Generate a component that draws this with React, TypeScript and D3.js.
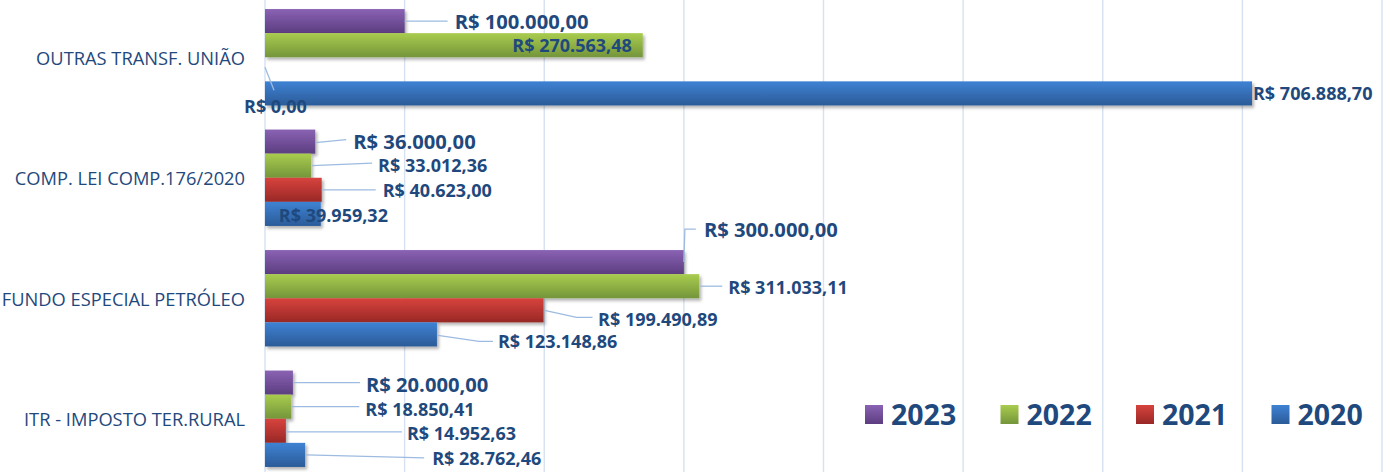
import React from "react";
import * as d3 from "d3";

const categories = [
  "OUTRAS TRANSF. UNIÃO",
  "COMP. LEI COMP.176/2020",
  "FUNDO ESPECIAL PETRÓLEO",
  "ITR - IMPOSTO TER.RURAL",
];
const seriesNames = ["2023", "2022", "2021", "2020"];
const values2023 = [100000.0, 36000.0, 300000.0, 20000.0];
const values2022 = [270563.48, 33012.36, 311033.11, 18850.41];
const values2021 = [0.0, 40623.0, 199490.89, 14952.63];
const values2020 = [706888.7, 39959.32, 123148.86, 28762.46];
const xTicks = [0, 100000, 200000, 300000, 400000, 500000, 600000, 700000, 800000];

const seriesValues = [values2023, values2022, values2021, values2020];

// styling / layout (not data)
const colors = [
  { top: "#8a63b4", bottom: "#5c3d80" },
  { top: "#a9cc4f", bottom: "#74953a" },
  { top: "#d8433d", bottom: "#982826" },
  { top: "#3f82d4", bottom: "#2b5b98" },
];
const textColor = "#1f497d";
const leaderColor = "#9dbbe0";
const gridColor = "#d6e2f1";

type Lbl = { dx: number; dy: number; anchor?: "start" | "end"; leader?: [number, number][] };
// label offsets relative to (bar end, bar centre), indexed [category][series]
const labelLayout: Lbl[][] = [
  [
    { dx: 50, dy: 0, leader: [[0, 0], [43, 0]] },
    { dx: -11, dy: 0, anchor: "end" },
    { dx: -21, dy: 37, leader: [[0, -2], [9, 21]] },
    { dx: 1, dy: 0 },
  ],
  [
    { dx: 38, dy: -1, leader: [[0, 1], [31, -2]] },
    { dx: 67, dy: -0.5, leader: [[1, 0], [61, -2.5]] },
    { dx: 61, dy: 0, leader: [[0, 0], [54, 0]] },
    { dx: -42, dy: 1 },
  ],
  [
    { dx: 20, dy: -33, leader: [[0, 0], [1, -33], [12, -33]] },
    { dx: 29, dy: 1, leader: [[1, 0], [23, 0]] },
    { dx: 54.5, dy: 9, leader: [[1, 0], [33, 7], [49, 7]] },
    { dx: 61, dy: 7, leader: [[1, 1], [42, 7], [56, 7]] },
  ],
  [
    { dx: 73, dy: 1, leader: [[0, 0], [67, 0]] },
    { dx: 74, dy: 2, leader: [[0, 0], [68, 0]] },
    { dx: 121, dy: 2, leader: [[0, 1], [116, 1]] },
    { dx: 127, dy: 3, leader: [[1, 0], [119, 3]] },
  ],
];

const W = 1385;
const H = 472;
const FONT = "'Open Sans', 'Noto Sans', sans-serif";

const fmt = (v: number) => {
  const [i, d] = v.toFixed(2).split(".");
  const withDots = i.replace(/\B(?=(\d{3})+(?!\d))/g, ".");
  return `R$ ${withDots},${d}`;
};

export default function App() {
  const x = d3.scaleLinear().domain([0, 800000]).range([265, 1382]);
  const y0 = d3
    .scaleBand<string>()
    .domain(categories)
    .range([-3, 479])
    .paddingInner(0.2)
    .paddingOuter(0.1);
  const y1 = d3
    .scaleBand<string>()
    .domain(seriesNames)
    .range([0, y0.bandwidth()])
    .padding(0);
  const line = d3.line<[number, number]>();

  return (
    <svg
      width={W}
      height={H}
      style={{ position: "absolute", left: 0, top: 0, background: "#fff" }}
      fontFamily={FONT}
    >
      <defs>
        {colors.map((c, i) => (
          <linearGradient key={i} id={`g${i}`} x1="0" y1="0" x2="0" y2="1">
            <stop offset="0" stopColor={c.top} />
            <stop offset="1" stopColor={c.bottom} />
          </linearGradient>
        ))}
        <filter id="sh" x="-10%" y="-20%" width="130%" height="160%">
          <feDropShadow dx="2" dy="2.5" stdDeviation="1.6" floodColor="#000" floodOpacity="0.3" />
        </filter>
      </defs>
      <rect x={0} y={0} width={W} height={H} fill="#fff" />
      {xTicks.map((t) => (
        <line key={t} x1={x(t)} x2={x(t)} y1={0} y2={H} stroke={gridColor} strokeWidth={1.4} />
      ))}
      {categories.map((cat) => (
        <text
          key={cat}
          x={245}
          y={(y0(cat) ?? 0) + y0.bandwidth() / 2}
          textAnchor="end"
          dominantBaseline="central"
          fontSize={18.3}
          fill={textColor}
        >
          {cat}
        </text>
      ))}
      {categories.map((cat, ci) =>
        seriesNames.map((s, si) => {
          const v = seriesValues[si][ci];
          const yb = (y0(cat) ?? 0) + (y1(s) ?? 0);
          const w = x(v) - x(0);
          if (w <= 0) return null;
          return (
            <rect
              key={cat + s}
              x={x(0)}
              y={yb}
              width={w}
              height={y1.bandwidth()}
              fill={`url(#g${si})`}
              filter="url(#sh)"
            />
          );
        })
      )}
      {categories.map((cat, ci) =>
        seriesNames.map((s, si) => {
          const v = seriesValues[si][ci];
          const ex = x(v);
          const cy = (y0(cat) ?? 0) + (y1(s) ?? 0) + y1.bandwidth() / 2;
          const L = labelLayout[ci][si];
          return (
            <g key={"l" + cat + s}>
              {L.leader && (
                <path
                  d={line(L.leader.map(([a, b]) => [ex + a, cy + b]) as [number, number][]) ?? ""}
                  fill="none"
                  stroke={leaderColor}
                  strokeWidth={1.3}
                />
              )}
              <text
                x={ex + L.dx}
                y={cy + L.dy}
                textAnchor={L.anchor ?? "start"}
                dominantBaseline="central"
                fontWeight="bold"
                fontSize={si === 0 ? 20.2 : 18}
                fill={textColor}
              >
                {fmt(v)}
              </text>
            </g>
          );
        })
      )}
      {seriesNames.map((s, si) => {
        const lx = 865 + si * 135.5;
        return (
          <g key={"lg" + s}>
            <rect x={lx} y={405} width={18} height={19} fill={`url(#g${si})`} />
            <text x={lx + 26} y={425} fontWeight="bold" fontSize={28.5} fill={textColor}>
              {s}
            </text>
          </g>
        );
      })}
    </svg>
  );
}
